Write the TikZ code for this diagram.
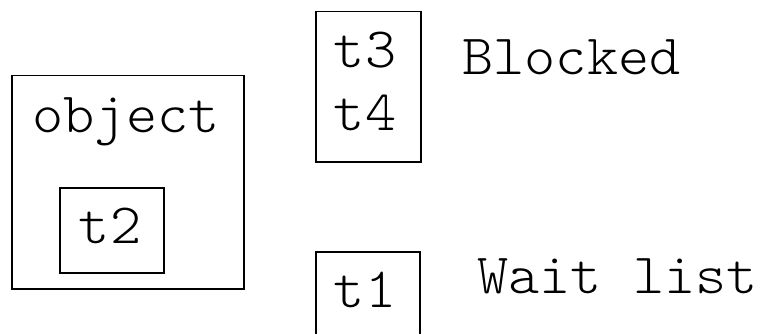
\documentclass[tikz,border=0pt]{standalone}
\usepackage{fontspec}
\setmonofont[FakeStretch=1.04]{Latin Modern Mono Light}

\begin{document}
\begin{tikzpicture}[
		x=1pt, y=-1pt,
		box/.style = {draw, line width=1.5pt, inner sep=0pt, anchor=north west},
		word/.style = {font=\fontsize{57}{66}\selectfont\ttfamily, inner sep=0pt, anchor=base}
	]
	\useasboundingbox (0,0) rectangle (768,334);
	\clip (0,0) rectangle (768,334);
	% boxes
	\node[box, minimum width=232pt, minimum height=213pt] (objbox) at (11,75) {};
	\node[box, minimum width=104pt, minimum height=85pt] (ownbox) at (59,187) {};
	\node[box, minimum width=105pt, minimum height=150pt] (blockbox) at (315,11) {};
	% wait list box runs off the bottom edge
	\node[box, minimum width=104pt, minimum height=120pt] (waitbox) at (315,251) {};
	% texts
	\node[word] (obj) at (126,132) {object};
	\node[word] (t2) at (110,243) {t2};
	\node[word] (t3) at (365,68) {t3};
	\node[word] (t4) at (365,131) {t4};
	\node[word] (blocked) at (571.5,75) {Blocked};
	\node[word] (t1) at (365,307) {t1};
	\node[word] (wait) at (617.5,293) {Wait list};
\end{tikzpicture}
\end{document}
